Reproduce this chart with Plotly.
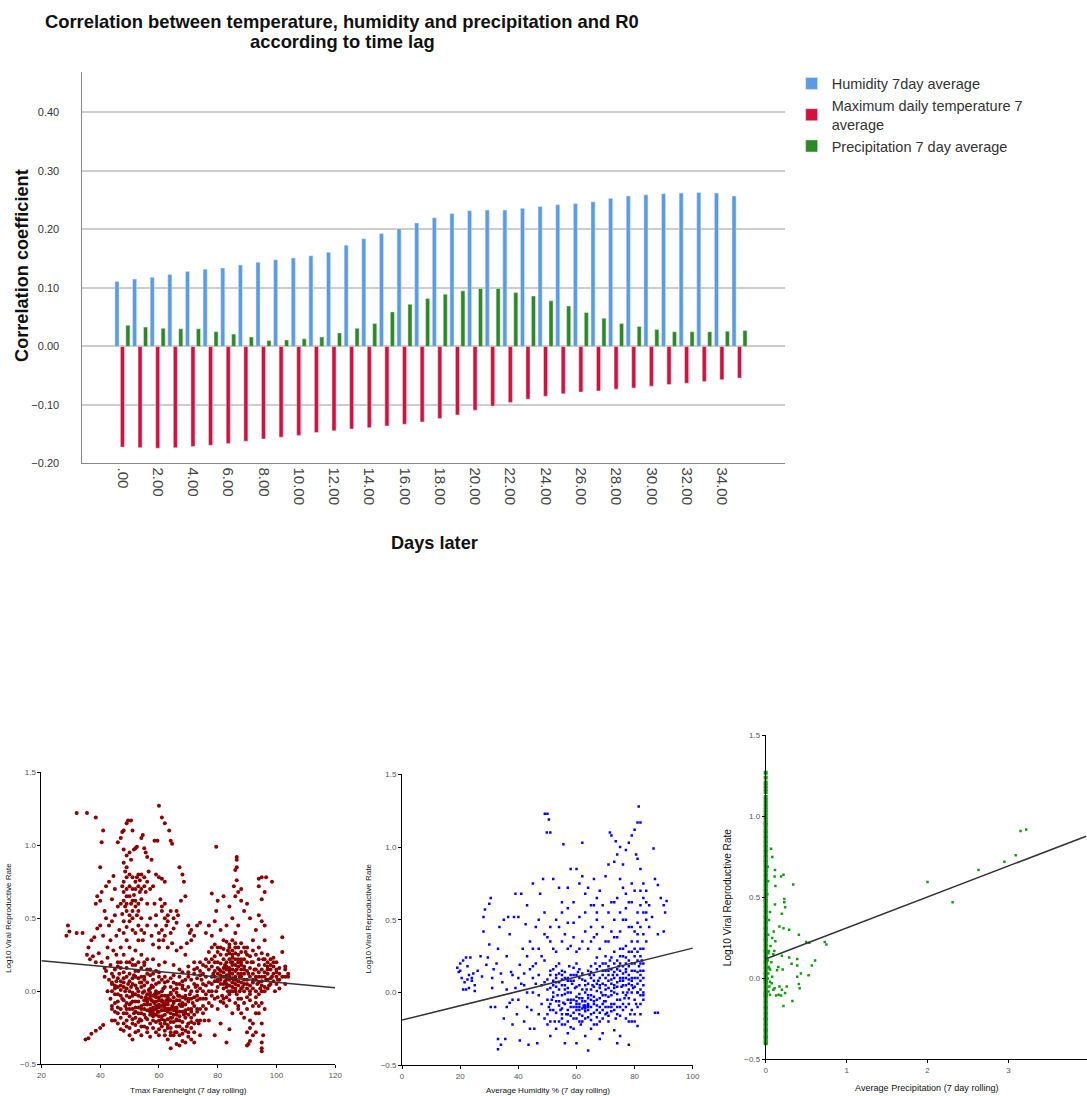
import plotly.graph_objects as go

# the photographed page comes out very slightly shrunk (about 0.991, shifted ~3.5px),
# so positions are given in reference pixels and mapped back through that
SHRINK, SHIFT = 0.991, 3.5
W, H = 1094, 1103

# ---- correlation by lag (top chart)
lags = list(range(36))
lag_ticks = [0, 2, 4, 6, 8, 10, 12, 14, 16, 18, 20, 22, 24, 26, 28, 30, 32, 34]
lag_labels = ['.00', '2.00', '4.00', '6.00', '8.00', '10.00', '12.00', '14.00', '16.00', '18.00',
              '20.00', '22.00', '24.00', '26.00', '28.00', '30.00', '32.00', '34.00']
humidity = [0.111, 0.115, 0.118, 0.123, 0.128, 0.132, 0.134, 0.139, 0.144, 0.148, 0.151, 0.155,
            0.161, 0.173, 0.184, 0.193, 0.201, 0.211, 0.220, 0.227, 0.232, 0.233, 0.233, 0.236,
            0.239, 0.242, 0.244, 0.247, 0.253, 0.257, 0.259, 0.261, 0.262, 0.263, 0.262, 0.257]
temperature = [-0.172, -0.173, -0.174, -0.173, -0.171, -0.169, -0.166, -0.162, -0.158, -0.155,
               -0.152, -0.147, -0.144, -0.141, -0.139, -0.136, -0.133, -0.129, -0.123, -0.117,
               -0.109, -0.102, -0.096, -0.090, -0.085, -0.081, -0.078, -0.076, -0.073, -0.071,
               -0.068, -0.065, -0.063, -0.060, -0.057, -0.054]
precipitation = [0.036, 0.033, 0.031, 0.030, 0.030, 0.025, 0.021, 0.016, 0.010, 0.011, 0.013, 0.016,
                 0.023, 0.031, 0.039, 0.059, 0.072, 0.082, 0.089, 0.095, 0.099, 0.099, 0.092, 0.086,
                 0.078, 0.069, 0.058, 0.048, 0.039, 0.034, 0.029, 0.025, 0.025, 0.025, 0.026, 0.027]

# ---- scatter 1: Tmax vs log10 R
tmax_pts = [
    (32, 1.22), (35.5, 1.22), (38.5, 1.19), (41, 1.1), (40.5, 1.02), (40, 0.85), (60, 1.27), (61, 1.19),
    (62, 1.15), (63.5, 1.1), (64, 1.03), (64.5, 1.01), (58.5, 1.03), (59.5, 1.03), (79.5, 0.99), (86.5, 0.92),
    (86.5, 0.9), (86.5, 0.85), (86, 0.83), (94, 0.77), (95, 0.78), (96.5, 0.78), (98.5, 0.75), (96, 0.68),
    (95, 0.63), (94, 0.72), (102, 0.37), (102, 0.27), (28.5, 0.38), (29, 0.45), (29.5, 0.41), (32, 0.4),
    (34, 0.4), (35, -0.33), (36, -0.32), (37, -0.29), (38.5, -0.27), (40, -0.25), (41, -0.23), (64, -0.39),
    (95, -0.39), (95, -0.41), (90, -0.37), (90.5, -0.36), (91, -0.34), (83, -0.35), (84, -0.26),
    (46, 1.02), (47, 1.05), (47.5, 1.09), (48, 1.1), (49, 1.15), (49.5, 1.17), (50.5, 1.17), (51, 1.1),
    (52, 0.98), (52.5, 0.99), (54, 1.05), (54.5, 1.07), (55, 0.98), (55.5, 0.95), (56, 0.92), (48, 0.97),
    (49, 0.93), (50, 0.95), (51.5, 0.97), (50.5, 0.9), (48.5, 0.82), (49, 0.78), (47.5, 0.72), (48, 0.68),
    (49, 0.65), (48, 0.62), (47, 0.6), (48.5, 0.58), (49, 0.55), (47.5, 0.53), (50.5, 0.6), (51, 0.62),
    (51.5, 0.66), (52, 0.7), (52.5, 0.78), (53, 0.8), (53.5, 0.76), (54, 0.8), (55, 0.78), (56, 0.75),
    (52, 0.58), (53, 0.55), (52.5, 0.52), (51, 0.5), (50, 0.48), (54, 0.63), (53.5, 0.68), (55, 0.72),
    (57, 0.7), (58, 0.72), (59, 0.8), (60, 0.78), (61, 0.77), (62, 0.75), (58.5, 0.6), (60.5, 0.63),
    (59, 0.52), (61, 0.55), (62, 0.5), (63, 0.48), (62.5, 0.45), (64, 0.4), (65, 0.43), (66, 0.55),
    (66.5, 0.52), (67, 0.85), (68, 0.8), (68.5, 0.75), (67.5, 0.62), (69, 0.65), (70, 0.45), (70.5, 0.4),
    (71, 0.42), (72, 0.38), (73, 0.45), (74, 0.47), (71, 0.35), (69.5, 0.33), (55.5, 0.68), (56.5, 0.82),
    (57.5, 0.9), (56, 0.6), (57, 0.5), (56, 0.45), (55, 0.4), (54.5, 0.35), (57.5, 0.38), (58, 0.32),
    (60, 0.3), (61.5, 0.35), (63, 0.3), (64.5, 0.33), (66, 0.28), (67.5, 0.3), (69, 0.25), (44, 0.48),
    (45, 0.52), (43, 0.45), (42, 0.5), (41.5, 0.55), (40, 0.62), (39, 0.65), (38.5, 0.6), (40.5, 0.68),
    (42, 0.72), (43, 0.75), (44.5, 0.79), (45, 0.7), (44, 0.63), (46, 0.58), (46.5, 0.42), (45.5, 0.38),
    (43.5, 0.35), (42.5, 0.3), (41, 0.38), (40, 0.45), (39, 0.43), (38, 0.37), (37, 0.35), (36, 0.3),
    (35.5, 0.25), (36.5, 0.22), (37.5, 0.24), (38.5, 0.2), (39.5, 0.26), (40.5, 0.2), (41.5, 0.16),
    (42.5, 0.23), (43.5, 0.18), (44.5, 0.28), (45.5, 0.25), (46, 0.2), (47, 0.3), (48, 0.25), (49, 0.35),
    (50, 0.3), (51, 0.22), (52, 0.28), (53, 0.2), (54, 0.25), (55, 0.18), (56, 0.22), (57, 0.15),
    (43, 0.08), (44, 0.05), (44.5, 0.1), (45, 0.02), (45.5, 0.07), (46, -0.02), (46.5, 0.12), (47, 0.04),
    (47.5, -0.05), (48, 0.09), (48.5, 0.0), (49, -0.08), (49.5, 0.05), (50, -0.12), (50.5, 0.03),
    (51, -0.03), (51.5, 0.11), (52, -0.07), (52.5, 0.02), (53, -0.15), (53.5, 0.06), (54, -0.1),
    (54.5, -0.01), (55, 0.08), (55.5, -0.18), (56, -0.05), (56.5, 0.01), (57, -0.12), (57.5, 0.04),
    (58, -0.2), (58.5, -0.08), (59, 0.0), (59.5, -0.14), (60, -0.04), (60.5, -0.22), (61, -0.1),
    (61.5, 0.02), (62, -0.16), (62.5, -0.06), (63, -0.25), (63.5, -0.12), (64, -0.02), (64.5, -0.18),
    (65, -0.08), (65.5, -0.28), (66, -0.14), (66.5, -0.03), (67, -0.2), (67.5, -0.1), (68, -0.34),
    (68.5, -0.16), (69, -0.05), (69.5, -0.24), (70, -0.12), (70.5, -0.02), (71, -0.18), (71.5, -0.08),
    (72, -0.28), (72.5, 0.03), (73, -0.14), (73.5, -0.22), (74, -0.05), (74.5, 0.08), (75, -0.1),
    (47, -0.18), (48, -0.22), (49, -0.2), (50, -0.25), (51, -0.19), (52, -0.28), (46, -0.15), (45, -0.2),
    (44, -0.12), (43.5, -0.05), (42.5, 0.0), (42, 0.14), (41.5, 0.1), (50, 0.12), (52, 0.14), (54, 0.1),
    (56, 0.12), (58, 0.08), (60, 0.1), (62, 0.06), (64, 0.09), (66, 0.05), (68, 0.07), (70, 0.1),
    (72, 0.12), (53, -0.03), (55, -0.09), (57, -0.01), (59, -0.1), (61, -0.06), (63, -0.09), (65, -0.16),
    (67, -0.06), (69, -0.13), (71, -0.25), (58, -0.13), (60, -0.17), (62, -0.11), (64, -0.21),
    (66, -0.19), (68, -0.26), (70, -0.31), (66, -0.36), (67, -0.37), (69, -0.35), (71, -0.33), (64, -0.3),
    (62, -0.27), (60, -0.3), (56, -0.28), (54, -0.24), (57, -0.31), (59, -0.07), (61, -0.13), (63, -0.03),
    (65, 0.01), (60, -0.06), (62, -0.08), (63.5, -0.06), (61.5, -0.09), (64.5, -0.1), (66, -0.11),
    (59.5, -0.11), (58.5, -0.02), (57.5, -0.06), (55.5, -0.04), (54, 0.03), (52, -0.11), (50.5, -0.08),
    (48.5, -0.1), (51.5, -0.15), (53.5, -0.19), (47, 0.16), (49, 0.2), (51, 0.18), (55, 0.2), (58, 0.22),
    (60, 0.18), (62, 0.2), (65, 0.18), (67, 0.15), (70, 0.17), (72, 0.2), (74, 0.14), (68, 0.02), (73, 0.0),
    (75, 0.05), (76, 0.1), (76, -0.05), (77, 0.15), (75.5, -0.2), (74, -0.3), (72, -0.35), (73, -0.12),
    (78, 0.05), (78.5, 0.12), (79, 0.2), (79.5, 0.0), (80, 0.08), (80.5, 0.15), (81, 0.25), (81.5, -0.03),
    (82, 0.1), (82.5, 0.18), (83, 0.05), (83.5, 0.28), (84, 0.12), (84.5, 0.0), (85, 0.2), (85.5, 0.08),
    (86, 0.3), (86.5, 0.15), (87, -0.05), (87.5, 0.1), (88, 0.22), (88.5, 0.03), (89, 0.17), (89.5, 0.27),
    (90, 0.05), (90.5, 0.12), (91, -0.02), (91.5, 0.2), (92, 0.08), (92.5, 0.15), (93, -0.08), (93.5, 0.05),
    (94, 0.18), (94.5, 0.02), (95, 0.1), (95.5, 0.22), (96, 0.0), (96.5, 0.08), (97, 0.15), (97.5, 0.04),
    (98, 0.22), (98.5, 0.1), (99, 0.12), (99.5, 0.0), (100, 0.15), (100.5, 0.08), (101, 0.12), (102, 0.1),
    (103, 0.15), (104, 0.12), (104, 0.1), (103, 0.05), (101, 0.02), (80, 0.3), (82, 0.35), (84, 0.32),
    (86, 0.4), (88, 0.33), (90, 0.3), (92, 0.35), (81, 0.42), (83, 0.45), (79, 0.48), (85, 0.5), (87, 0.45),
    (89, 0.55), (91, 0.5), (93, 0.42), (90, 0.6), (88, 0.62), (86, 0.65), (82, 0.65), (80, 0.62), (78, 0.67),
    (77, 0.45), (76, 0.4), (78, 0.38), (79.5, 0.55), (84, 0.58), (85.5, 0.72), (86.5, 0.76), (87, 0.68),
    (88, 0.7), (83, -0.1), (85, -0.15), (87, -0.12), (89, -0.18), (91, -0.2), (93, -0.15), (95, -0.22),
    (90, -0.28), (92, -0.3), (94, -0.1), (96, -0.12), (88, -0.05), (86, 0.0), (84, -0.02), (82, -0.08),
    (80, -0.12), (78, -0.1), (77, -0.2), (79, -0.3), (81, -0.22), (94, 0.3), (96, 0.35), (97, 0.25),
    (99, 0.23), (100, 0.2), (93, 0.25), (95, 0.48), (94, 0.52), (96, 0.45), (95.5, -0.3), (95, -0.35),
    (83, 0.15), (84, 0.08), (85, 0.12), (86, 0.05), (84.5, 0.2), (83.5, 0.0), (82.5, 0.07), (85, 0.25),
    (86, 0.18), (87, 0.22), (88, 0.12), (89, 0.08), (87.5, 0.0), (86.5, -0.02), (85, 0.03),
    (59, 0.45), (60, 0.4), (61, 0.42), (62, 0.38), (60, 0.35), (63, 0.52), (64, 0.55), (65, 0.5),
    (66, 0.47), (62, 0.6), (61, 0.58),
]
# denser core of the cloud, read column by column (temperature: log10 R values)
tmax_cols = [
    (44, [-0.1, 0.0, 0.06, -0.2, 0.12]), (45, [-0.08, 0.04, -0.14, 0.15, -0.02]),
    (46, [0.03, -0.07, -0.22, 0.09, 0.17, -0.11]), (47, [-0.03, 0.07, -0.12, -0.26, 0.01, 0.2]),
    (48, [0.03, -0.15, -0.06, 0.13, -0.27, 0.06, 0.4, 0.48, 0.75, 0.88]),
    (49, [0.02, -0.12, -0.03, 0.1, -0.24, 0.16, -0.15, 0.44, 0.6, 0.7, 0.85]),
    (50, [-0.04, 0.07, -0.17, 0.0, -0.3, 0.2, -0.09, 0.52, 0.65, 0.72, 0.8]),
    (51, [0.05, -0.07, -0.22, -0.12, 0.09, -0.01, -0.33, 0.42, 0.55, 0.7, 0.78]),
    (52, [0.04, -0.18, -0.02, 0.1, -0.23, -0.14, 0.18, 0.4, 0.62, 0.75]),
    (53, [-0.07, 0.0, -0.11, 0.09, -0.27, -0.21, 0.14, 0.35, 0.45, 0.6, 0.72]),
    (54, [-0.15, -0.04, 0.06, -0.2, -0.12, 0.16, -0.3, 0.42, 0.5, 0.7]),
    (55, [0.0, -0.12, -0.06, 0.04, -0.24, -0.16, 0.1]),
    (56, [-0.09, -0.02, -0.19, 0.06, -0.13, 0.15, -0.25, -0.07]),
    (57, [-0.16, -0.05, 0.02, -0.22, -0.09, 0.11, -0.14, -0.03]),
    (58, [-0.11, -0.03, -0.17, 0.03, -0.25, -0.07, 0.12, -0.15]),
    (59, [-0.04, -0.16, -0.21, 0.05, -0.12, -0.02, -0.28, 0.14]),
    (60, [-0.14, -0.01, -0.09, -0.2, 0.06, -0.26, -0.11, 0.13]),
    (61, [-0.17, -0.07, 0.0, -0.24, -0.13, 0.08, -0.03, -0.19]),
    (62, [-0.2, -0.13, -0.03, 0.03, -0.22, -0.09, -0.3, 0.1]),
    (63, [-0.14, -0.04, -0.19, -0.07, 0.07, -0.23, -0.12, -0.33]),
    (64, [-0.15, -0.06, -0.25, 0.03, -0.12, -0.18, -0.01, -0.28]),
    (65, [-0.11, -0.21, -0.04, 0.06, -0.13, -0.3, -0.07, 0.11]),
    (66, [-0.16, -0.06, -0.24, 0.02, -0.12, -0.28, -0.01, -0.2]),
    (67, [-0.14, -0.03, -0.24, -0.09, 0.05, -0.3, -0.17, 0.1]),
    (68, [-0.1, -0.21, -0.04, 0.04, -0.14, -0.29, -0.08, 0.13]),
    (69, [-0.09, -0.18, 0.01, -0.27, -0.03, 0.08, -0.15]),
    (70, [-0.07, -0.16, 0.03, -0.22, -0.05, 0.13, -0.28]),
    (71, [-0.12, 0.0, -0.05, 0.08, -0.21, -0.14]), (72, [-0.04, -0.16, 0.05, -0.1, 0.15, -0.22]),
    (73, [0.04, -0.06, -0.2, 0.09, 0.16, -0.03]), (74, [-0.12, 0.02, 0.11, -0.2, 0.2]),
    (75, [0.0, 0.12, -0.15, 0.18, -0.05]), (76, [0.04, 0.17, -0.12, 0.22, -0.02]),
    (77, [0.06, 0.0, 0.2, -0.08, 0.27]), (78, [0.1, 0.17, -0.03, 0.22, 0.3, 0.0]),
    (79, [0.07, 0.14, -0.05, 0.24, 0.1, 0.32]), (80, [0.03, 0.12, 0.2, -0.04, 0.16, 0.27, 0.07]),
    (81, [0.05, 0.14, 0.19, -0.07, 0.08, 0.3, 0.11]), (82, [0.02, 0.13, 0.22, 0.16, -0.05, 0.29, 0.05]),
    (83, [0.08, 0.2, 0.11, 0.25, -0.04, 0.34, 0.17, 0.03]),
    (84, [0.04, 0.16, 0.22, 0.1, 0.3, -0.06, 0.14, 0.26]),
    (85, [0.06, 0.15, 0.18, 0.0, 0.28, 0.09, 0.23, 0.35]),
    (86, [0.1, 0.22, 0.02, 0.14, 0.26, 0.08, 0.33, -0.08]),
    (87, [0.04, 0.17, 0.12, 0.25, 0.07, 0.3, -0.1, 0.2]),
    (88, [0.06, 0.15, 0.2, 0.02, 0.27, 0.1, -0.15, 0.18]),
    (89, [0.0, 0.12, 0.22, 0.05, 0.3, -0.08, 0.15]), (90, [0.08, 0.2, -0.04, 0.14, 0.25, -0.12, 0.02]),
    (91, [0.1, 0.04, 0.16, -0.06, 0.24, 0.0, -0.25]), (92, [0.02, 0.12, 0.2, -0.1, 0.06, 0.28, -0.22]),
    (93, [0.1, 0.0, 0.15, -0.04, 0.08, -0.28]), (94, [0.06, 0.13, -0.02, 0.22, -0.15, 0.1]),
    (95, [0.04, 0.15, 0.07, -0.08, 0.26, 0.0]), (96, [0.1, 0.18, 0.03, 0.22, 0.13]),
    (97, [0.08, 0.2, 0.12, 0.02, 0.17]), (98, [0.15, 0.05, 0.18, 0.09]), (99, [0.07, 0.17, 0.2]),
    (100, [0.1, 0.05, 0.13]), (101, [0.16, 0.08]), (103, [0.1, 0.17]),
]
tmax_x = [p[0] for p in tmax_pts] + [c[0] for c in tmax_cols for _ in c[1]]
tmax_y = [p[1] for p in tmax_pts] + [v for c in tmax_cols for v in c[1]]
tmax_fit_x = [20, 120]
tmax_fit_y = [0.21, 0.025]

# ---- scatter 2: humidity vs log10 R
hum_pts = [
    (19, 0.17), (19.5, 0.14), (20, 0.2), (20.5, 0.1), (21, 0.22), (21.5, 0.07), (22, 0.02), (22, 0.24),
    (22.5, 0.18), (23, 0.12), (23, 0.03), (23.5, 0.24), (24, 0.08), (24.5, 0.13), (25, 0.05), (25, 0.01),
    (21, 0.02), (20, 0.15), (24, 0.1), (22.5, 0.09), (26, 0.15), (27, 0.25), (27.5, 0.11), (28, 0.52),
    (28, 0.42), (28.5, 0.57), (29, 0.19), (29.5, 0.24), (30, 0.33), (30, 0.61), (30.5, 0.65), (30.5, -0.1),
    (31, 0.1), (31, 0.03), (31.5, 0.16), (32, -0.1), (32.5, 0.2), (33, 0.3), (33, -0.32), (33, -0.39),
    (33.5, 0.45), (34, 0.13), (34, -0.36), (34.5, 0.07), (35, -0.18), (35, 0.5), (35.5, -0.32), (36, 0.02),
    (36, 0.25), (36.5, 0.52), (37, -0.07), (37, 0.4), (37.5, 0.14), (38, 0.12), (38, -0.05), (38.5, 0.52),
    (39, 0.03), (39, 0.68), (39.5, -0.15), (40, 0.52), (40, 0.1), (40.5, 0.19), (40.5, -0.33), (41, 0.68),
    (41, 0.06), (41.5, 0.3), (42, 0.13), (42, -0.2), (42.5, 0.47), (43, 0.0), (43, 0.6), (43.5, -0.36),
    (44, 0.16), (44, 0.35), (44.5, -0.12), (45, 0.1), (45, 0.75), (45.5, -0.25), (46, 0.06), (46, 0.45),
    (46.5, -0.35), (47, 0.12), (47, 0.3), (47.5, 0.68), (48, 0.05), (48, -0.08), (48.5, 0.78), (49, 0.4),
    (49, -0.18), (49.1, 1.23), (50, 1.23), (50.5, 1.19), (49.8, 1.1), (81.4, 1.28),
    (50, 0.02), (50.5, -0.1), (51, 0.15), (51.5, -0.05), (52, 0.08), (52.5, -0.2), (53, 0.12), (53.5, -0.02),
    (54, 0.2), (54.5, -0.12), (55, 0.05), (55.5, -0.07), (56, 0.1), (56.5, -0.15), (57, 0.0), (57.5, 0.18),
    (58, -0.1), (58.5, 0.06), (59, -0.18), (59.5, 0.03), (60, -0.08), (60.5, 0.14), (61, -0.04),
    (61.5, -0.22), (62, 0.09), (62.5, -0.1), (63, -0.09), (63.5, 0.02), (64, -0.1), (64.5, 0.12),
    (65, -0.15), (65.5, 0.05), (66, -0.03), (66.5, 0.2), (67, -0.12), (67.5, 0.08), (68, -0.2), (68.5, 0.0),
    (69, 0.15), (69.5, -0.06), (70, 0.1), (70.5, -0.14), (71, 0.03), (71.5, 0.22), (72, -0.08), (72.5, 0.12),
    (73, 0.0), (73.5, -0.18), (74, 0.07), (74.5, 0.18), (75, -0.1), (75.5, 0.04), (76, 0.13), (76.5, -0.04),
    (77, 0.2), (77.5, 0.0), (78, 0.09), (78.5, -0.15), (79, 0.15), (79.5, 0.03), (80, 0.25), (80.5, -0.08),
    (81, 0.1), (81.5, 0.18), (82, -0.02), (82.5, 0.22), (83, 0.05), (52, 0.0), (54, -0.06), (56, 0.02),
    (58, 0.08), (60, -0.12), (62, -0.06), (64, -0.04), (66, -0.08), (68, 0.05), (70, -0.02), (72, 0.06),
    (74, -0.05), (76, 0.08), (78, 0.02), (80, 0.1), (82, 0.08), (53, -0.25), (55, -0.22), (57, -0.28),
    (59, -0.25), (61, -0.2), (63, -0.3), (65, -0.25), (67, -0.22), (69, -0.28), (71, -0.2), (73, -0.26),
    (75, -0.3), (77, -0.18), (79, -0.2), (81, -0.23), (60, -0.35), (64, -0.4), (56, -0.35), (68, -0.32),
    (74, -0.35), (78, -0.36), (50, -0.22), (51, -0.3), (63, -0.1), (62.5, -0.09), (64, -0.09), (61, -0.1),
    (58, -0.05), (57, -0.12), (55, 0.12), (53, 0.18), (60, 0.2), (65, 0.18), (70, 0.25), (75, 0.3),
    (73, 0.28), (77, 0.32), (79, 0.28), (81, 0.35), (83, 0.4), (82, 0.3), (80, 0.42), (78, 0.45), (76, 0.5),
    (74, 0.38), (72, 0.42), (70, 0.35), (68, 0.3), (66, 0.38), (64, 0.3), (62, 0.35), (60, 0.28), (58, 0.32),
    (56, 0.4), (54, 0.45), (52, 0.3), (50, 0.38), (48, 0.25), (65, 0.6), (67, 0.65), (63, 0.55), (61, 0.75),
    (59, 0.62), (57, 0.58), (55, 0.55), (58, 0.85), (60, 0.85), (62, 0.8), (64, 0.72), (66, 0.78), (68, 0.7),
    (70, 0.8), (72, 0.62), (73, 0.9), (74, 0.95), (75, 1.0), (76, 0.88), (77, 0.98), (78, 1.03), (79, 1.08),
    (80, 1.12), (81, 1.17), (82, 1.17), (80.5, 0.95), (81, 0.92), (82, 0.85), (83, 0.75), (84, 0.62),
    (83, 0.55), (84, 0.5), (85, 0.45), (86, 0.52), (86.5, 0.99), (87, 0.78), (88, 0.74), (89, 0.65),
    (90, 0.6), (90.5, 0.55), (91, 0.63), (90, 0.42), (88, 0.4), (87, -0.14), (88, -0.14), (85, 0.6),
    (84, 0.7), (83, 0.65), (82, 0.6), (81, 0.55), (80, 0.7), (79, 0.75), (78, 0.62), (77, 0.68), (76, 0.72),
    (75, 0.55), (74, 0.65), (73, 0.5), (71, 0.88), (71.5, 1.1), (72, 1.08), (73.5, 1.04), (66, 0.6),
    (67, 0.55), (54, 0.72), (55.5, 1.02), (51, 1.1), (62, 1.03), (52, 0.78), (57, 0.48), (46, 0.2),
    (44, -0.25), (42, 0.05), (40, -0.05), (38, -0.22), (36, -0.1), (83, -0.05), (83, 0.15), (82, -0.15),
    (80, -0.2), (78, -0.08), (76, -0.12), (74, -0.15), (72, -0.1), (70, -0.1), (69, -0.12), (67, -0.05),
    (65, -0.02), (63, 0.05), (61, 0.1), (59, 0.12), (57, 0.08), (55, -0.15), (53, 0.04), (51, -0.12),
    (49, 0.07), (47, -0.02), (45, 0.0), (71, 0.15), (73, 0.1), (75, 0.15), (77, 0.1), (79, 0.05), (81, 0.0),
    (76, 0.25), (78, 0.22),
]
hum_cols = [
    (43, [0.25, -0.1]), (45, [0.3, 0.18]), (47, [0.5, -0.15]), (49, [0.22, 0.55]),
    (50, [-0.05, 0.09, -0.15]), (51, [0.03, -0.08, 0.12, -0.2, 0.35, 0.45]),
    (52, [-0.12, 0.05, -0.03, 0.16]), (53, [0.07, -0.14, -0.06, 0.1, 0.28, 0.5]),
    (54, [-0.09, 0.02, -0.2, 0.13, 0.07]), (55, [-0.02, 0.15, -0.18, -0.11, 0.09, 0.35, 0.62]),
    (56, [-0.08, 0.05, -0.22, -0.01, 0.14]), (57, [-0.15, -0.05, 0.1, -0.2, 0.03, 0.3, 0.72]),
    (58, [0.0, -0.16, -0.07, 0.12, -0.24]), (59, [-0.05, 0.08, -0.14, -0.1, 0.17, 0.38, 0.48]),
    (60, [-0.03, -0.18, 0.04, -0.1, 0.12, -0.06]),
    (61, [-0.08, 0.05, -0.15, -0.12, 0.16, -0.01, 0.3, 0.52]),
    (62, [-0.11, -0.04, 0.02, -0.16, 0.13, -0.2]),
    (63, [-0.06, 0.08, -0.13, -0.18, 0.0, -0.11, 0.42, 0.68]),
    (64, [-0.12, -0.02, 0.06, -0.17, 0.15, -0.08]),
    (65, [-0.1, 0.02, -0.05, 0.1, -0.19, 0.14, 0.35, 0.45]),
    (66, [-0.14, 0.04, 0.12, -0.06, -0.22, 0.08]),
    (67, [-0.09, 0.01, 0.16, -0.17, 0.06, 0.24, 0.4, 0.5]),
    (68, [-0.1, 0.1, -0.04, 0.18, -0.14, 0.03]),
    (69, [-0.02, 0.06, -0.18, 0.2, -0.08, 0.12, 0.45, 0.6]),
    (70, [0.05, -0.06, 0.15, -0.15, 0.02, 0.2]),
    (71, [-0.1, 0.08, 0.18, -0.03, -0.16, 0.12, 0.35, 0.55]),
    (72, [0.01, 0.16, -0.13, 0.24, -0.02, 0.09]),
    (73, [0.05, -0.08, 0.14, 0.2, -0.12, 0.03, 0.38, 0.62]),
    (74, [0.12, -0.01, 0.22, -0.1, 0.04, 0.16]),
    (75, [0.08, -0.05, 0.2, 0.1, -0.16, 0.25, 0.42, 0.78]),
    (76, [0.0, 0.18, 0.1, -0.08, 0.3, 0.05]),
    (77, [0.05, 0.14, -0.1, 0.24, -0.02, 0.16, 0.5, 0.58]),
    (78, [0.12, -0.04, 0.18, 0.06, 0.28, -0.2]),
    (79, [0.0, 0.1, 0.2, -0.12, 0.35, 0.08, 0.45, 0.62]),
    (80, [0.04, 0.15, -0.05, 0.2, 0.3, -0.15]),
    (81, [0.06, -0.1, 0.14, 0.22, 0.0, 0.28, 0.4, 0.48]),
    (82, [0.12, 0.02, 0.2, -0.08, 0.25, 0.15, 0.45, 0.7]),
    (83, [0.1, -0.02, 0.2, 0.3, 0.0]), (84, [0.35, 0.55]),
]
hum_x = [p[0] for p in hum_pts] + [c[0] for c in hum_cols for _ in c[1]]
hum_y = [p[1] for p in hum_pts] + [v for c in hum_cols for v in c[1]]
hum_fit_x = [0, 100]
hum_fit_y = [-0.19, 0.305]

# ---- scatter 3: precipitation vs log10 R
# days with no rain sit on the axis
dry_y = [-0.4, -0.39, -0.37, -0.36, -0.35, -0.33, -0.32, -0.31, -0.29, -0.28, -0.26, -0.25, -0.24,
         -0.22, -0.21, -0.19, -0.18, -0.17, -0.15, -0.14, -0.12, -0.11, -0.1, -0.09, -0.08, -0.06,
         -0.05, -0.03, -0.02, -0.01, 0.0, 0.02, 0.03, 0.04, 0.06, 0.07, 0.09, 0.1, 0.11, 0.13, 0.14,
         0.16, 0.17, 0.18, 0.2, 0.21, 0.23, 0.24, 0.25, 0.27, 0.28, 0.3, 0.31, 0.32, 0.34, 0.35, 0.37,
         0.38, 0.39, 0.41, 0.42, 0.44, 0.45, 0.47, 0.48, 0.49, 0.51, 0.52, 0.54, 0.55, 0.57, 0.58, 0.6,
         0.61, 0.63, 0.64, 0.66, 0.67, 0.69, 0.7, 0.72, 0.73, 0.75, 0.76, 0.78, 0.79, 0.81, 0.82, 0.84,
         0.85, 0.87, 0.88, 0.9, 0.91, 0.93, 0.95, 0.96, 0.98, 1.0, 1.02, 1.04, 1.06, 1.08, 1.1, 1.12,
         1.15, 1.17, 1.19, 1.21, 1.24, 1.27]
dry_x = [0] * len(dry_y)
rain_pts = [
    (0.066, 0.8), (0.082, 0.75), (0.025, 0.69), (0.115, 0.67), (0.11, 0.63), (0.22, 0.64), (0.19, 0.63),
    (0.12, 0.57), (0.34, 0.58), (0.23, 0.49), (0.23, 0.47), (0.24, 0.44), (0.115, 0.456), (0.053, 0.41),
    (0.2, 0.4), (0.17, 0.32), (0.22, 0.31), (0.29, 0.3), (0.41, 0.27), (0.1, 0.29), (0.08, 0.25),
    (0.12, 0.23), (0.107, 0.17), (0.04, 0.17), (0.094, 0.15), (0.2, 0.14), (0.29, 0.13), (0.39, 0.12),
    (0.5, 0.225), (0.54, 0.22), (0.73, 0.225), (0.75, 0.21), (0.037, 0.07), (0.053, 0.055), (0.156, 0.07),
    (0.21, 0.055), (0.32, 0.09), (0.39, 0.08), (0.57, 0.08), (0.61, 0.11), (0.53, 0.02), (0.435, 0.03),
    (0.39, 0.01), (0.053, -0.02), (0.074, -0.03), (0.045, -0.05), (0.094, -0.07), (0.17, -0.05),
    (0.2, -0.07), (0.24, -0.09), (0.26, -0.05), (0.41, -0.035), (0.42, -0.06), (0.053, -0.1),
    (0.13, -0.105), (0.19, -0.105), (0.33, -0.14), (0.22, -0.17), (0.025, 0.0), (0.033, 0.03),
    (0.033, 0.155), (0.025, 0.11), (0.03, 0.6), (0.02, 0.52), (0.04, 0.36), (0.03, 0.27), (0.06, 0.2),
    (0.05, 0.06), (0.035, -0.08), (0.08, 0.01), (0.07, 0.1), (0.14, 0.05), (0.16, -0.1), (0.11, -0.06),
    (2.0, 0.595), (2.31, 0.47), (2.63, 0.67), (2.95, 0.72), (3.09, 0.76), (3.15, 0.91), (3.22, 0.92),
]
rain_x = [p[0] for p in rain_pts]
rain_y = [p[1] for p in rain_pts]
prec_fit_x = [0, 3.96]
prec_fit_y = [0.12, 0.878]


# reference pixel -> paper fraction
def px_x(v):
    return ((v - SHIFT) / SHRINK) / W


def px_y(v):
    return 1 - ((v - SHIFT) / SHRINK) / H


def fs(size):
    return round(size / SHRINK, 2)


fig = go.Figure()

fig.add_trace(go.Bar(x=lags, y=humidity, name='Humidity 7day average', marker_color='#5b9be6'))
fig.add_trace(go.Bar(x=lags, y=temperature, name='Maximum daily temperature 7<br>average',
                     marker_color='#d5103c'))
fig.add_trace(go.Bar(x=lags, y=precipitation, name='Precipitation 7 day average', marker_color='#2b8a23'))

fig.add_trace(go.Scatter(x=tmax_x, y=tmax_y, mode='markers', xaxis='x2', yaxis='y2', showlegend=False,
                         marker=dict(color='#8b0000', size=4)))
fig.add_trace(go.Scatter(x=tmax_fit_x, y=tmax_fit_y, mode='lines', xaxis='x2', yaxis='y2',
                         showlegend=False, line=dict(color='#333333', width=1.5)))
fig.add_trace(go.Scatter(x=hum_x, y=hum_y, mode='markers', xaxis='x3', yaxis='y3', showlegend=False,
                         marker=dict(color='#0000ff', size=2.5, symbol='square')))
fig.add_trace(go.Scatter(x=hum_fit_x, y=hum_fit_y, mode='lines', xaxis='x3', yaxis='y3',
                         showlegend=False, line=dict(color='#333333', width=1.5)))
fig.add_trace(go.Scatter(x=dry_x, y=dry_y, mode='markers', xaxis='x4', yaxis='y4', showlegend=False,
                         marker=dict(color='#139a13', size=4, symbol='square'), cliponaxis=False))
fig.add_trace(go.Scatter(x=rain_x, y=rain_y, mode='markers', xaxis='x4', yaxis='y4', showlegend=False,
                         marker=dict(color='#139a13', size=2.5, symbol='square')))
fig.add_trace(go.Scatter(x=prec_fit_x, y=prec_fit_y, mode='lines', xaxis='x4', yaxis='y4',
                         showlegend=False, line=dict(color='#333333', width=1.5)))

small = dict(family='Liberation Sans, Arial', size=8, color='#555555')
sc_axis = dict(showline=True, linecolor='#000000', linewidth=1, showgrid=False, zeroline=False,
               ticks='outside', ticklen=3, tickcolor='#000000', tickfont=small)

fig.update_layout(
    width=W, height=H, autosize=False,
    margin=dict(l=0, r=0, t=0, b=0),
    paper_bgcolor='white', plot_bgcolor='white',
    barmode='group', bargap=0.07, bargroupgap=0.25,
    font=dict(family='Liberation Sans, Arial', color='#222222'),
    legend=dict(x=px_x(792), y=px_y(67), xanchor='left', yanchor='top',
                font=dict(size=14.5, color='#333333'), tracegroupgap=0, itemwidth=30),
    xaxis=dict(domain=[px_x(82), px_x(785)], range=[-2.27, 37.56], tickvals=lag_ticks,
               ticktext=lag_labels, tickangle=90, tickfont=dict(size=15, color='#444444'),
               showline=True, linecolor='#888888', showgrid=False, zeroline=False, ticks=''),
    yaxis=dict(domain=[px_y(463), px_y(72)], range=[-0.2, 0.468], dtick=0.1, tickformat='.2f',
               tickfont=dict(size=11, color='#333333'), showline=True, linecolor='#888888',
               gridcolor='#cccccc', gridwidth=1.5, zeroline=False, ticks='', ticklabelstandoff=20),
    xaxis2=dict(domain=[px_x(41), px_x(335)], range=[20, 120], dtick=20, anchor='y2', **sc_axis),
    yaxis2=dict(domain=[px_y(1064), px_y(771.7)], range=[-0.5, 1.5], dtick=0.5, tickformat='.1f',
                anchor='x2', **sc_axis),
    xaxis3=dict(domain=[px_x(402), px_x(693)], range=[0, 100], dtick=20, anchor='y3', **sc_axis),
    yaxis3=dict(domain=[px_y(1064.7), px_y(774)], range=[-0.5, 1.5], dtick=0.5, tickformat='.1f',
                anchor='x3', **sc_axis),
    xaxis4=dict(domain=[px_x(766), 1.0], range=[0, (W * SHRINK + SHIFT - 766) / 81], dtick=1,
                anchor='y4', **sc_axis),
    yaxis4=dict(domain=[px_y(1059), px_y(735)], range=[-0.5, 1.5], dtick=0.5, tickformat='.1f',
                anchor='x4', **sc_axis),
)

notes = [
    dict(text='<b>Correlation between temperature, humidity and precipitation and R0</b>',
         x=342, y=21, size=18.2, angle=0),
    dict(text='<b>according to time lag</b>', x=342, y=41, size=18.2, angle=0),
    dict(text='<b>Correlation coefficient</b>', x=22, y=265, size=18, angle=-90),
    dict(text='<b>Days later</b>', x=434, y=543, size=18, angle=0),
    dict(text='Tmax Farenheight (7 day rolling)', x=188, y=1090, size=8, angle=0),
    dict(text='Log10 Viral Reproductive Rate', x=8, y=917, size=8, angle=-90),
    dict(text='Average Humidity % (7 day rolling)', x=548, y=1090, size=8, angle=0),
    dict(text='Log10 Viral Reproductive Rate', x=368, y=918, size=8, angle=-90),
    dict(text='Average Precipitation (7 day rolling)', x=927, y=1088, size=9, angle=0),
    dict(text='Log10 Viral Reproductive Rate', x=728, y=897, size=10, angle=-90),
]
for n in notes:
    fig.add_annotation(text=n['text'], x=px_x(n['x']), y=px_y(n['y']), xref='paper', yref='paper',
                       xanchor='center', yanchor='middle', showarrow=False, textangle=n['angle'],
                       font=dict(size=fs(n['size']), color='#111111'))

# the figure fills the whole window, so drop the page margin
fig.write_html("out.html", config={'displayModeBar': False},
               post_script="document.body.style.margin='0';"
                           "document.body.style.overflow='hidden';")
